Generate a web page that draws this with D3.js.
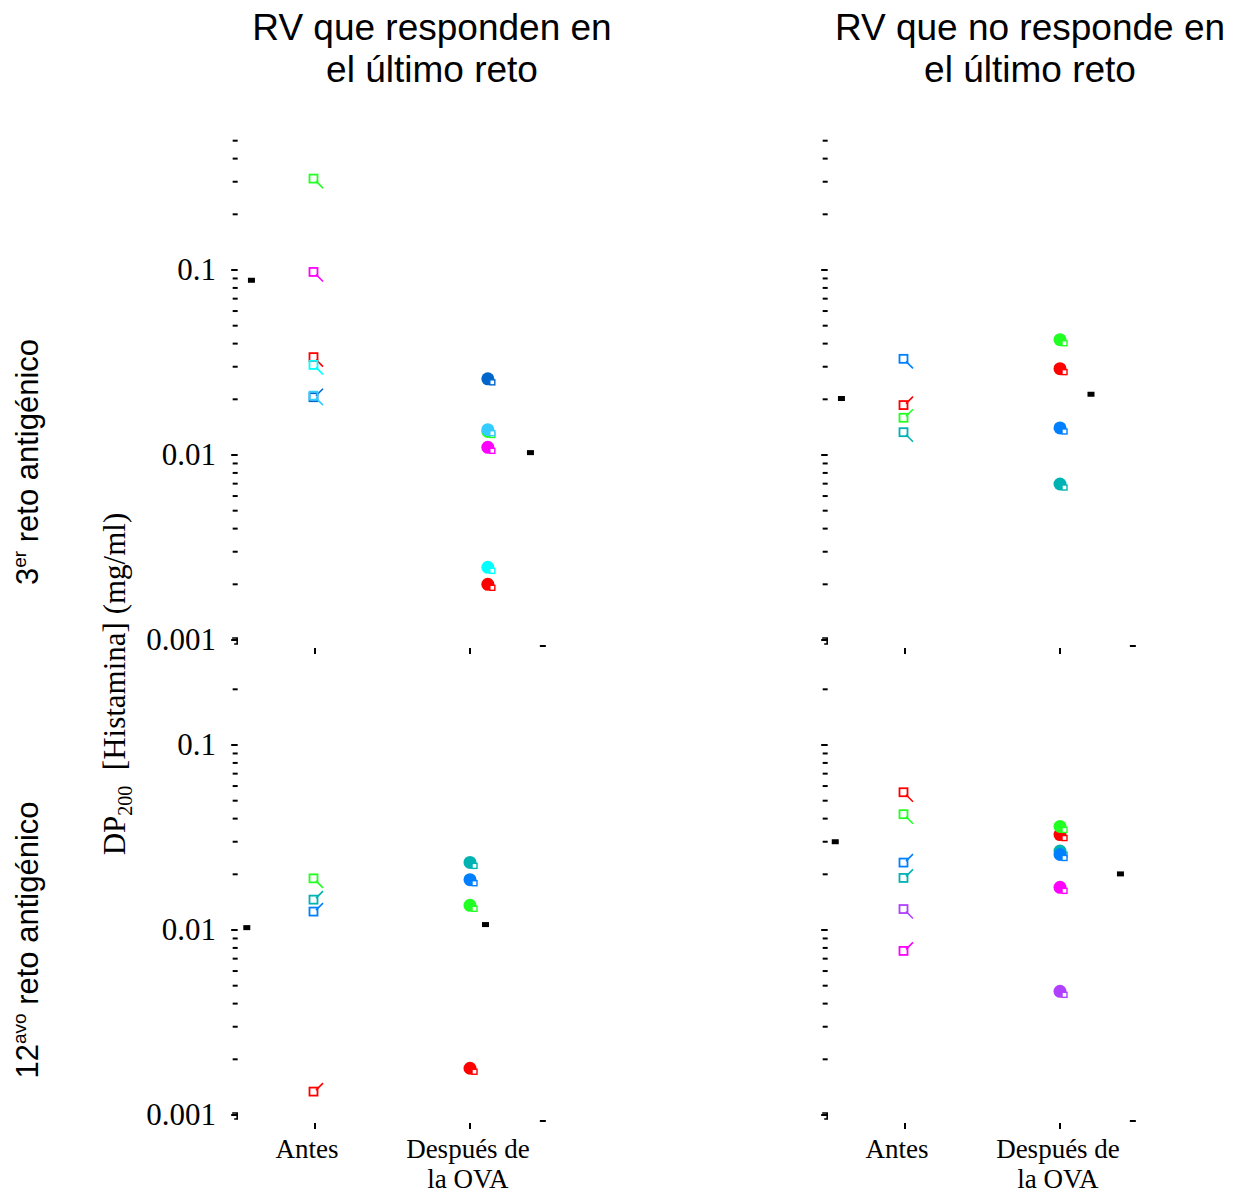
<!DOCTYPE html>
<html>
<head>
<meta charset="utf-8">
<script src="https://cdn.jsdelivr.net/npm/d3@7"></script>
<style>
  body { margin: 0; background: white; }
  svg { display: block; }
</style>
</head>
<body>
<svg id="chart" width="1241" height="1196"></svg>
<script>
// column titles, row labels, x categories
var columnTitles = [["RV que responden en", "el último reto"], ["RV que no responde en", "el último reto"]];
var rowLabels = [["3", "er"], ["12", "avo"]];
var xLabels = [["Antes"], ["Después de", "la OVA"]];
var majorTicks = [0.001, 0.01, 0.1];
var majorLabels = ["0.001", "0.01", "0.1"];
var rowTopTick = [0.5, 0.2];

// paired values: [Antes, Después] per subject
// 3er reto, responden
var colorsTL  = ["#22ff22", "#ff00ff", "#ff0000", "#00ffff", "#0066cc", "#33ccff"];
var antesTL   = [0.31, 0.097, 0.0336, 0.0305, 0.0204, 0.0208];
var despuesTL = [0.0134, 0.011, 0.0020, 0.00247, 0.0258, 0.0137];
var medioTL   = [[0.59, 0.088], [2.39, 0.0103]];
// 3er reto, no responde
var colorsTR  = ["#0080ff", "#ff0000", "#22ff22", "#00b3b3"];
var antesTR   = [0.0329, 0.0185, 0.0158, 0.0132];
var despuesTR = [0.014, 0.0293, 0.042, 0.00697];
var medioTR   = [[0.59, 0.0202], [2.2, 0.0213]];
// 12avo reto, responden
var colorsBL  = ["#22ff22", "#00b3b3", "#0080ff", "#ff0000"];
var antesBL   = [0.0189, 0.0145, 0.0125, 0.00133];
var despuesBL = [0.0136, 0.0232, 0.0187, 0.00179];
var medioBL   = [[0.56, 0.0103], [2.1, 0.0107]];
// 12avo reto, no responde
var colorsBR  = ["#ff0000", "#22ff22", "#00b3b3", "#0080ff", "#b040ff", "#ff00ff"];
var antesBR   = [0.0552, 0.042, 0.019, 0.023, 0.0129, 0.00766];
var despuesBR = [0.0328, 0.0363, 0.0267, 0.0256, 0.00466, 0.017];
var medioBR   = [[0.55, 0.030], [2.39, 0.0201]];

// horizontal position of the after-points (top-left ones are shifted right)
var despuesPos = [[2.115, 2.0], [2.0, 2.0]];

var panels = [
    [{c: colorsTL, a: antesTL, d: despuesTL, m: medioTL}, {c: colorsTR, a: antesTR, d: despuesTR, m: medioTR}],
    [{c: colorsBL, a: antesBL, d: despuesBL, m: medioBL}, {c: colorsBR, a: antesBR, d: despuesBR, m: medioBR}]
];

var svg = d3.select("#chart");
var serif = "'Liberation Serif', 'DejaVu Serif', serif";
var sans = "'Liberation Sans', Arial, sans-serif";

// one x scale per column, one log scale per row
var xScales = [
    d3.scaleLinear().domain([1, 2]).range([315, 470]),
    d3.scaleLinear().domain([1, 2]).range([905, 1060])
];
var yScales = [
    d3.scaleLog().domain([0.001, 0.1]).range([640, 270]),
    d3.scaleLog().domain([0.001, 0.1]).range([1115, 745])
];

// column titles
columnTitles.forEach(function(lines, ci) {
    var cx = ci == 0 ? 432 : 1030;
    lines.forEach(function(t, li) {
        svg.append("text")
            .attr("x", cx).attr("y", 40 + li * 42)
            .attr("text-anchor", "middle")
            .style("font-family", sans).style("font-size", "37px")
            .text(t);
    });
});

// row labels, rotated
rowLabels.forEach(function(lab, ri) {
    var cy = ri == 0 ? 462 : 940;
    var t = svg.append("text")
        .attr("transform", "translate(38," + cy + ") rotate(-90)")
        .attr("text-anchor", "middle")
        .style("font-family", sans).style("font-size", "31px");
    t.append("tspan").text(lab[0]);
    t.append("tspan").attr("dy", -12).style("font-size", "19px").text(lab[1]);
    t.append("tspan").attr("dy", 12).text(" reto antigénico");
});

// y axis title
var yt = svg.append("text")
    .attr("transform", "translate(125,684) rotate(-90)")
    .attr("text-anchor", "middle")
    .style("font-family", serif).style("font-size", "31px");
yt.append("tspan").text("DP");
yt.append("tspan").attr("dy", 7).style("font-size", "20px").text("200");
yt.append("tspan").attr("dy", -7).text("\xa0\xa0[Histamina] (mg/ml)");

for (var ri = 0; ri < 2; ri++) {
    var y = yScales[ri];
    // minor + major ticks from 0.001 up to the top of the row
    var tickVals = [];
    for (var dec = 0.001; dec < 1; dec *= 10) {
        for (var k = 1; k <= 9; k++) {
            var v = +(dec * k).toPrecision(3);
            if (v <= rowTopTick[ri] + 1e-9) tickVals.push(v);
        }
    }
    for (var ci = 0; ci < 2; ci++) {
        var x = xScales[ci];
        var ax = x(0.485);
        var g = svg.append("g");

        tickVals.forEach(function(v) {
            var major = majorTicks.indexOf(v) >= 0;
            g.append("line")
                .attr("x1", ax - (major ? 4 : 2.5)).attr("x2", ax + 2.5)
                .attr("y1", y(v)).attr("y2", y(v))
                .style("stroke", "black").style("stroke-width", 2);
        });
        // little hook at the foot of the axis
        g.append("path")
            .attr("d", "M" + (ax - 3) + "," + (y(0.001) - 2) + "h5v6h-3")
            .style("fill", "none").style("stroke", "black").style("stroke-width", 1.6);

        if (ci == 0) {
            majorTicks.forEach(function(v, i) {
                g.append("text")
                    .attr("x", 216).attr("y", y(v) + 10)
                    .attr("text-anchor", "end")
                    .style("font-family", serif).style("font-size", "31px")
                    .text(majorLabels[i]);
            });
        }

        // x ticks under each condition + end dash
        [1, 2].forEach(function(p) {
            g.append("line")
                .attr("x1", x(p)).attr("x2", x(p))
                .attr("y1", y(0.001) + 8).attr("y2", y(0.001) + 14)
                .style("stroke", "black").style("stroke-width", 2);
        });
        g.append("line")
            .attr("x1", x(2.47) - 3).attr("x2", x(2.47) + 3)
            .attr("y1", y(0.001) + 6).attr("y2", y(0.001) + 6)
            .style("stroke", "black").style("stroke-width", 2);

        if (ri == 1) {
            xLabels.forEach(function(lines, i) {
                lines.forEach(function(t, li) {
                    g.append("text")
                        .attr("x", x(i + 1) - (i == 0 ? 8 : 2)).attr("y", 1158 + li * 30)
                        .attr("text-anchor", "middle")
                        .style("font-family", serif).style("font-size", "27px")
                        .text(t);
                });
            });
        }

        var pd = panels[ri][ci];
        var dx = despuesPos[ri][ci];

        // Antes: open squares with a short diagonal tail toward the after-value
        pd.a.forEach(function(v, i) {
            var sx = x(1) - 1, sy = y(v);
            var dir = pd.d[i] > v ? -1 : 1;
            g.append("rect")
                .attr("x", sx - 4.5).attr("y", sy - 4.5)
                .attr("width", 8).attr("height", 8)
                .style("fill", "none").style("stroke", pd.c[i]).style("stroke-width", 1.8);
            g.append("line")
                .attr("x1", sx + 2).attr("y1", sy + 2 * dir)
                .attr("x2", sx + 9).attr("y2", sy + 9 * dir)
                .style("stroke", pd.c[i]).style("stroke-width", 1.6);
        });

        // Después: filled circles with small open square
        pd.d.forEach(function(v, i) {
            var cx = x(dx), cy = y(v);
            g.append("circle")
                .attr("cx", cx).attr("cy", cy).attr("r", 6.5)
                .style("fill", pd.c[i]);
            g.append("rect")
                .attr("x", cx + 2).attr("y", cy + 1)
                .attr("width", 5).attr("height", 5)
                .style("fill", "white").style("stroke", pd.c[i]).style("stroke-width", 1.4);
        });

        // black marks
        pd.m.forEach(function(mv) {
            g.append("rect")
                .attr("x", x(mv[0]) - 3.5).attr("y", y(mv[1]) - 2.5)
                .attr("width", 7).attr("height", 5)
                .style("fill", "black");
        });
    }
}
</script>
</body>
</html>
